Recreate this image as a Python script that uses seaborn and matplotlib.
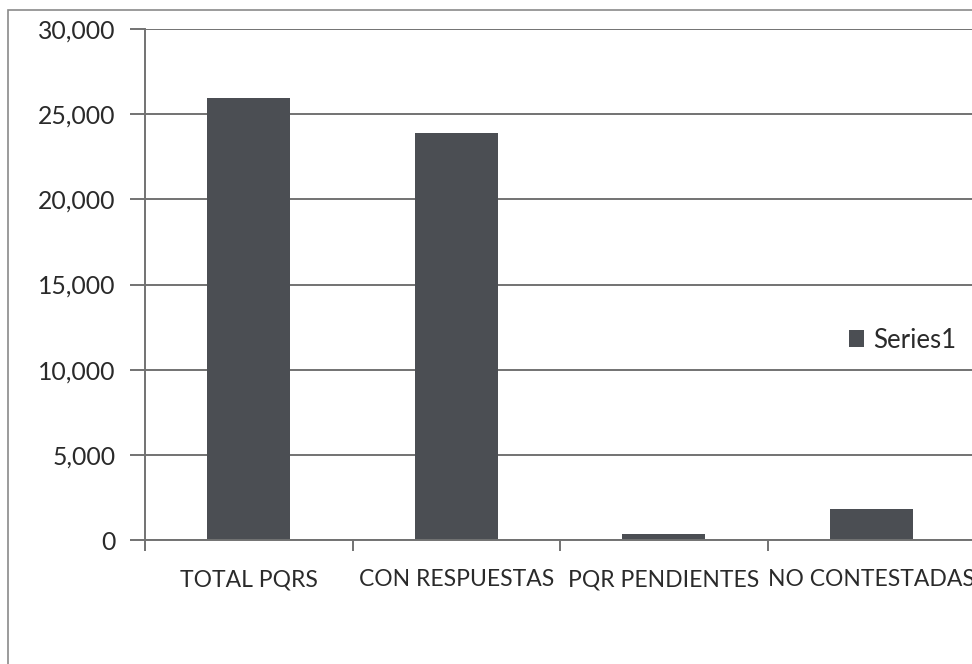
import matplotlib
matplotlib.use("Agg")
import matplotlib.pyplot as plt
import matplotlib.patches as mpatches
import seaborn as sns
import pandas as pd
from matplotlib.ticker import FuncFormatter, FixedLocator

categories = ["TOTAL PQRS", "CON RESPUESTAS", "PQR PENDIENTES", "NO CONTESTADAS"]
values = [25950, 23900, 380, 1800]
series_name = "Series1"
y_ticks = [0, 5000, 10000, 15000, 20000, 25000, 30000]

sns.set_theme(style="white")
plt.rcParams["font.family"] = ["Lato", "DejaVu Sans"]

df = pd.DataFrame({"cat": categories, "val": values})

fig = plt.figure(figsize=(9.72, 6.64), dpi=100)
ax = fig.add_axes([145/972, 1 - 540/664, 830/972, 511/664])

bar_color = "#4b4e53"
sns.barplot(data=df, x="cat", y="val", color=bar_color, width=0.4, ax=ax,
            label=series_name, saturation=1, edgecolor="none")

ax.set_xlim(-0.5, 3.5)
ax.set_ylim(0, 30000)
ax.yaxis.set_major_locator(FixedLocator(y_ticks))
ax.yaxis.set_major_formatter(FuncFormatter(lambda v, p: f"{int(v):,}"))
ax.grid(axis="y", color="#727272", linewidth=1.4)
ax.set_axisbelow(True)
ax.set_xlabel("")
ax.set_ylabel("")

for s in ["top", "right"]:
    ax.spines[s].set_visible(False)
ax.spines["left"].set_color("#727272")
ax.spines["left"].set_linewidth(1.4)
ax.spines["bottom"].set_color("#727272")
ax.spines["bottom"].set_linewidth(1.4)

ax.tick_params(axis="y", which="major", length=11, width=1.4, color="#727272",
               direction="out", left=True, labelsize=17.8, labelcolor="#2a2a2a", pad=10)
ax.set_xticks([-0.5, 0.5, 1.5, 2.5, 3.5], minor=True)
ax.tick_params(axis="x", which="minor", length=8, width=1.4, color="#727272",
               direction="out", bottom=True)
ax.tick_params(axis="x", which="major", length=0, labelsize=16.5,
               labelcolor="#2a2a2a", pad=21)

leg = ax.legend(loc="center left", frameon=False,
                handlelength=0.6, handleheight=0.6, handletextpad=0.35,
                borderpad=0, borderaxespad=0, fontsize=18.5)
leg.set_bbox_to_anchor((849/972, 1 - 340/664), transform=fig.transFigure)
for t in leg.get_texts():
    t.set_color("#2a2a2a")

border = mpatches.Rectangle((8/972, -0.1), 1.1, 1 - 10/664 + 0.1,
                            transform=fig.transFigure, fill=False,
                            edgecolor="#8a8a8a", linewidth=1.2)
fig.patches.append(border)

fig.savefig("out.png", dpi=100)
